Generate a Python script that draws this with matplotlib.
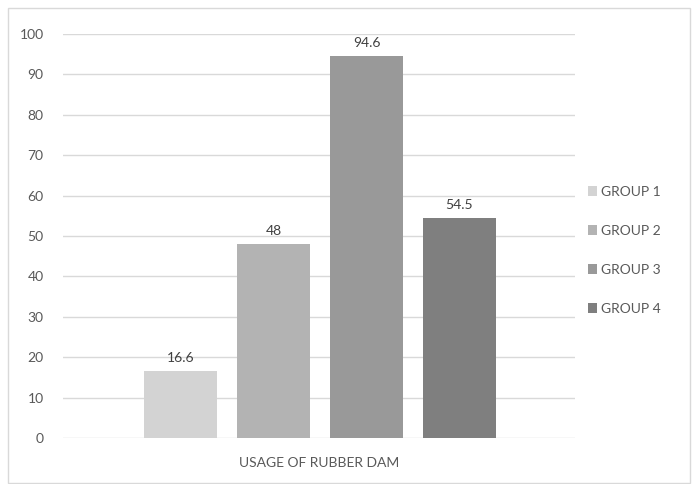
import numpy as np
import matplotlib.pyplot as plt
from matplotlib.patches import Rectangle

plt.rcParams['font.family'] = ['Lato', 'DejaVu Sans']

groups = ['GROUP 1', 'GROUP 2', 'GROUP 3', 'GROUP 4']
values = [16.6, 48, 94.6, 54.5]
labels = ['16.6', '48', '94.6', '54.5']
colors = ['#d3d3d3', '#b3b3b3', '#999999', '#7f7f7f']
text_color = '#595959'

fig = plt.figure(figsize=(6.92, 4.84), dpi=100)
fig.patches.append(Rectangle((8 / 692, 0.002), 682 / 692, 1 - 8 / 484 - 0.002,
                             transform=fig.transFigure, fill=False,
                             edgecolor='#d9d9d9', linewidth=1))
ax = fig.add_axes([63 / 692, 46 / 484, 512 / 692, 404 / 484])

x = np.arange(len(groups))
bars = ax.bar(x, values, width=73 / 93, color=colors, label=groups, zorder=3)
for b, lab in zip(bars, labels):
    ax.annotate(lab, (b.get_x() + b.get_width() / 2, b.get_height()),
                xytext=(0, 5), textcoords='offset points', ha='center',
                va='bottom', fontsize=10, color='#404040')

ax.set_xlim(-117.5 / 93, 394.5 / 93)
ax.set_ylim(0, 100)
ax.set_yticks(np.arange(0, 101, 10))
ax.set_xticks([])
ax.grid(axis='y', color='#d9d9d9', linewidth=1, zorder=0)
for s in ax.spines.values():
    s.set_visible(False)
ax.tick_params(axis='y', length=0, pad=14, labelsize=10, labelcolor=text_color)
ax.set_xlabel('USAGE OF RUBBER DAM', fontsize=10, color=text_color, labelpad=14)

ax.legend(loc='center left', bbox_to_anchor=(1.0, 0.465), frameon=False,
          fontsize=10, labelcolor=text_color, handlelength=0.7,
          handleheight=0.7, handletextpad=0.3, labelspacing=1.95)

fig.savefig('out.png', dpi=100)
